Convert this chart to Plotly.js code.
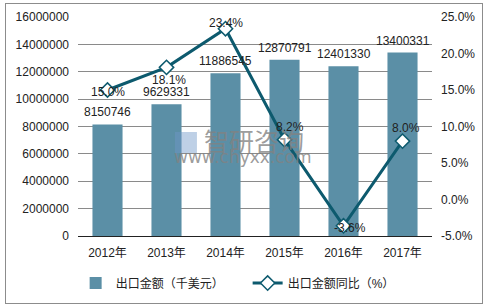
<!DOCTYPE html>
<html><head><meta charset="utf-8">
<script src="https://cdn.plot.ly/plotly-3.0.1.min.js"></script>
<style>
html,body{margin:0;padding:0;background:#fff;}
#wrap{position:relative;width:488px;height:308px;}
#chart{position:absolute;left:0;top:0;width:488px;height:308px;}
#frame{position:absolute;left:5px;top:3px;width:476px;height:299px;border:1px solid #8c8c8c;pointer-events:none;}
</style></head>
<body><div id="wrap"><div id="chart"></div><div id="frame"></div></div>
<script>
const years = ['2012年','2013年','2014年','2015年','2016年','2017年'];
const exportValue = [8150746, 9629331, 11886545, 12870791, 12401330, 13400331];
const yoyPct = [15.0, 18.1, 23.4, 8.2, -3.6, 8.0];
const leftTicks = [0,2000000,4000000,6000000,8000000,10000000,12000000,14000000,16000000];
const rightTicks = [-5,0,5,10,15,20,25];
const barName = '出口金额（千美元）';
const lineName = '出口金额同比（%）';

const lineLabelShift = [[0,-2],[2,-13],[0,6],[5,13],[6,-2],[3,13]];

const font = 'Liberation Sans, Arial, sans-serif';
const cjk = 'Liberation Sans, Noto Sans CJK SC, sans-serif';
const barColor = '#5b8fa6';
const lineColor = '#0d5a6e';
const wmColor = 'rgba(130,130,130,0.8)';

const annotations = [];
years.forEach((y,i)=>{
  annotations.push({x:y, y:exportValue[i], xref:'x', yref:'y', text:String(exportValue[i]),
    showarrow:false, yanchor:'middle', yshift:12, font:{family:font,size:12,color:'#222'}});
  annotations.push({x:y, y:yoyPct[i], xref:'x', yref:'y2', text:yoyPct[i].toFixed(1)+'%',
    showarrow:false, yanchor:'middle', xshift:lineLabelShift[i][0], yshift:lineLabelShift[i][1],
    font:{family:font,size:12,color:'#222'}});
});
annotations.push({xref:'paper',yref:'paper',x:0.497,y:0.44,text:'智研咨询',showarrow:false,
  font:{family:'Noto Sans CJK SC, sans-serif',size:25,color:wmColor}});
annotations.push({xref:'paper',yref:'paper',x:0.465,y:0.305,text:'www.chyxx.com',showarrow:false,
  font:{family:'DejaVu Sans, sans-serif',size:17,color:wmColor}});

const data = [
  {type:'bar', x:years, y:exportValue, name:barName, marker:{color:barColor}, yaxis:'y'},
  {type:'scatter', mode:'lines+markers', x:years, y:yoyPct, name:lineName, yaxis:'y2',
   line:{color:lineColor,width:3},
   marker:{symbol:'diamond',size:11,color:'#fff',line:{color:lineColor,width:1.5}}}
];

const layout = {
  width:488, height:308,
  margin:{l:78,r:56,t:17,b:72},
  paper_bgcolor:'#fff', plot_bgcolor:'#fff',
  bargap:0.49,
  showlegend:true,
  legend:{orientation:'h', xref:'container', yref:'container', x:0.155, xanchor:'left', y:0.081, yanchor:'middle',
    font:{family:cjk,size:12,color:'#222'}, entrywidth:127, itemwidth:30},
  xaxis:{type:'category', showline:true, linecolor:'#222', linewidth:1, ticks:'',
    tickfont:{family:cjk,size:12,color:'#222'}, showgrid:false, ticklabelstandoff:6},
  yaxis:{range:[0,16000000], tickvals:leftTicks, ticktext:leftTicks.map(String),
    showgrid:true, gridcolor:'#8a8a8a', gridwidth:1, zeroline:false, showline:false,
    tickfont:{family:font,size:12,color:'#222'}, ticklabelstandoff:8},
  yaxis2:{overlaying:'y', side:'right', range:[-5,25], tickvals:rightTicks,
    ticktext:rightTicks.map(v=>v.toFixed(1)+'%'), showgrid:false, zeroline:false, showline:false,
    tickfont:{family:font,size:12,color:'#222'}, ticklabelstandoff:8},
  shapes:[{type:'rect', xref:'paper', yref:'paper', x0:0.274, x1:0.336, y0:0.379, y1:0.475,
    fillcolor:'rgba(110,150,200,0.45)', line:{width:0}, layer:'above'}],
  annotations:annotations
};

Plotly.newPlot('chart', data, layout, {staticPlot:true, displayModeBar:false});
</script></body></html>
